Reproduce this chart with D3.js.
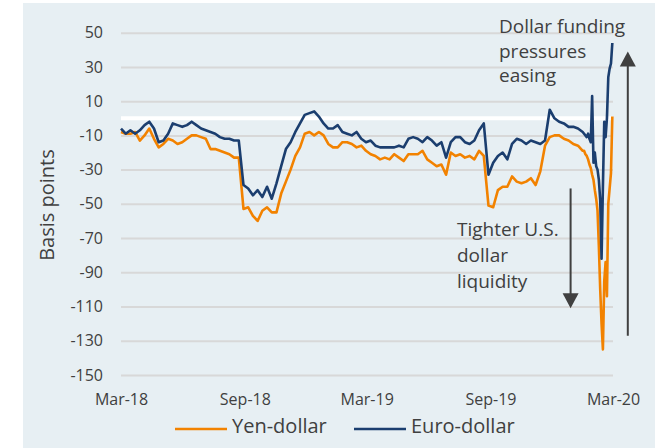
<!DOCTYPE html>
<html lang="en">
<head>
<meta charset="UTF-8">
<title>Yen-dollar and Euro-dollar cross-currency basis</title>
<script src="https://d3js.org/d3.v7.min.js"></script>
<style>
  body { margin: 0; background: #fff; }
  text { font-family: "Open Sans", sans-serif; fill: #404040; }
</style>
</head>
<body>
<div id="chart"></div>
<script>
// Weekly readings from 20 Mar 2018, then every second day from day 688 to the end
const startDate = "2018-03-20";
const weeklyStep = 7;
const dailyOffset = 688;
const dailyStep = 2;

const weeklyYen = [
  -8, -9, -9, -8, -13, -10, -6, -12, -17, -15,
  -12, -13, -15, -14, -12, -10, -10, -11, -12, -18,
  -18, -19, -20, -21, -23, -23, -53, -52, -57, -60,
  -54, -52, -55, -55, -44, -37, -30, -22, -17, -9,
  -8, -10, -8, -10, -15, -17, -17, -14, -14, -15,
  -17, -16, -19, -21, -22, -24, -23, -24, -21, -23,
  -25, -21, -21, -21, -19, -24, -26, -28, -27, -33,
  -20, -22, -21, -23, -22, -24, -19, -22, -51, -52,
  -42, -40, -40, -34, -37, -38, -37, -35, -39, -31,
  -16, -11, -10, -10, -12, -13, -15, -16, -19
];
const weeklyEuro = [
  -6, -9, -7, -9, -7, -4, -2, -6, -14, -13,
  -9, -3, -4, -5, -4, -2, -4, -6, -7, -8,
  -9, -11, -12, -12, -13, -13, -39, -41, -45, -42,
  -46, -40, -47, -38, -28, -18, -14, -8, -3, 2,
  3, 4, 1, -3, -6, -6, -4, -8, -9, -10,
  -8, -12, -14, -13, -16, -17, -17, -17, -17, -16,
  -17, -12, -11, -12, -14, -11, -13, -16, -14, -23,
  -14, -11, -11, -14, -15, -13, -7, -3, -33, -26,
  -22, -20, -24, -15, -12, -13, -15, -13, -14, -15,
  -13, 5, 0, -2, -3, -5, -5, -6, -8
];
const dailyYen = [-19, -21, -22, -24, -27, -29, -33, -36, -42, -47, -54,
  -75, -100, -120, -135, -95, -84, -104, -50, -41, -32, 1];
const dailyEuro = [-9, -10, -11, -9, -12, -14, 13, -26, -20, -28, -30,
  -36, -48, -82, -40, -2, -11, 0, 24, 29, 32, 44];

const tickDates = ["2018-03-20", "2018-09-20", "2019-03-20", "2019-09-20", "2020-03-20"];
const tickLabels = ["Mar-18", "Sep-18", "Mar-19", "Sep-19", "Mar-20"];
const yTicks = [50, 30, 10, -10, -30, -50, -70, -90, -110, -130, -150];

const seriesNames = ["Yen-dollar", "Euro-dollar"];
const colors = ["#f28200", "#1b3e6f"];

// build date/value rows
const start = new Date(startDate + "T00:00:00Z");
const dates = weeklyYen.map((_, i) => d3.utcDay.offset(start, i * weeklyStep))
  .concat(dailyYen.map((_, j) => d3.utcDay.offset(start, dailyOffset + j * dailyStep)));
const series = [weeklyYen.concat(dailyYen), weeklyEuro.concat(dailyEuro)]
  .map(vals => vals.map((v, i) => ({ date: dates[i], value: v })));

const width = 660, height = 448;
const svg = d3.select("#chart").append("svg")
  .attr("width", width).attr("height", height);

// panel background
svg.append("rect")
  .attr("x", 23).attr("y", 3)
  .attr("width", 632).attr("height", 445)
  .attr("fill", "#e7eff3");

const x = d3.scaleUtc()
  .domain([new Date(tickDates[0] + "T00:00:00Z"), new Date(tickDates[4] + "T00:00:00Z")])
  .range([121, 613]);
const y = d3.scaleLinear().domain([-150, 50]).range([375, 32.7]);

// gridlines
svg.append("g")
  .attr("transform", "translate(121,0)")
  .call(d3.axisLeft(y).tickValues(yTicks).tickSize(-492).tickFormat(""))
  .call(g => g.select(".domain").remove())
  .call(g => g.selectAll("line").attr("stroke", "#d8d8d8").attr("stroke-width", 2));

// zero line
svg.append("line")
  .attr("x1", 121).attr("x2", 613)
  .attr("y1", y(0)).attr("y2", y(0))
  .attr("stroke", "#fff").attr("stroke-width", 4);

// y labels (plain hyphen for negatives, as in the original)
svg.append("g")
  .attr("transform", "translate(108,0)")
  .call(d3.axisLeft(y).tickValues(yTicks).tickSize(0).tickPadding(5)
    .tickFormat(d => String(d)))
  .call(g => g.select(".domain").remove())
  .call(g => g.selectAll("text").style("font-size", "16px").attr("fill", "#404040"));

// x labels
svg.append("g")
  .attr("transform", "translate(0,388)")
  .call(d3.axisBottom(x)
    .tickValues(tickDates.map(d => new Date(d + "T00:00:00Z")))
    .tickFormat((d, i) => tickLabels[i])
    .tickSize(0).tickPadding(6))
  .call(g => g.select(".domain").remove())
  .call(g => g.selectAll("text").style("font-size", "16px").attr("fill", "#404040"));

// y-axis title
svg.append("text")
  .attr("transform", "translate(54,205) rotate(-90)")
  .attr("text-anchor", "middle")
  .style("font-size", "20px")
  .text("Basis points");

// lines
const line = d3.line().x(d => x(d.date)).y(d => y(d.value));
series.forEach((s, i) => {
  svg.append("path")
    .datum(s)
    .attr("fill", "none")
    .attr("stroke", colors[i])
    .attr("stroke-width", 2.6)
    .attr("stroke-linejoin", "round")
    .attr("d", line);
});

// annotations
const arrowColor = "#404040";
function arrow(date, fromV, toV) {
  const ax = x(new Date(date + "T00:00:00Z"));
  const y0 = y(fromV), y1 = y(toV);
  const dir = y1 > y0 ? 1 : -1;
  svg.append("line")
    .attr("x1", ax).attr("x2", ax)
    .attr("y1", y0).attr("y2", y1 - dir * 12)
    .attr("stroke", arrowColor).attr("stroke-width", 2);
  svg.append("path")
    .attr("d", `M${ax - 8},${y1 - dir * 15}L${ax + 8},${y1 - dir * 15}L${ax},${y1}Z`)
    .attr("fill", arrowColor);
}
arrow("2020-01-17", -41, -111);
arrow("2020-04-11", -127, 39);

const upText = ["Dollar funding", "pressures", "easing"];
const downText = ["Tighter U.S.", "dollar", "liquidity"];
svg.append("text")
  .attr("x", 499).attr("y", 33)
  .style("font-size", "19px")
  .selectAll("tspan").data(upText).join("tspan")
  .attr("x", 499).attr("dy", (d, i) => i ? 24.5 : 0)
  .text(d => d);
svg.append("text")
  .attr("x", 457).attr("y", 236)
  .style("font-size", "19px")
  .selectAll("tspan").data(downText).join("tspan")
  .attr("x", 457).attr("dy", (d, i) => i ? 26 : 0)
  .text(d => d);

// legend
const legendX = [175, 354];
seriesNames.forEach((name, i) => {
  svg.append("line")
    .attr("x1", legendX[i]).attr("x2", legendX[i] + 52)
    .attr("y1", 429).attr("y2", 429)
    .attr("stroke", colors[i]).attr("stroke-width", 2.5);
  svg.append("text")
    .attr("x", legendX[i] + 57).attr("y", 428)
    .attr("dominant-baseline", "middle")
    .style("font-size", "20px")
    .text(name);
});
</script>
</body>
</html>
